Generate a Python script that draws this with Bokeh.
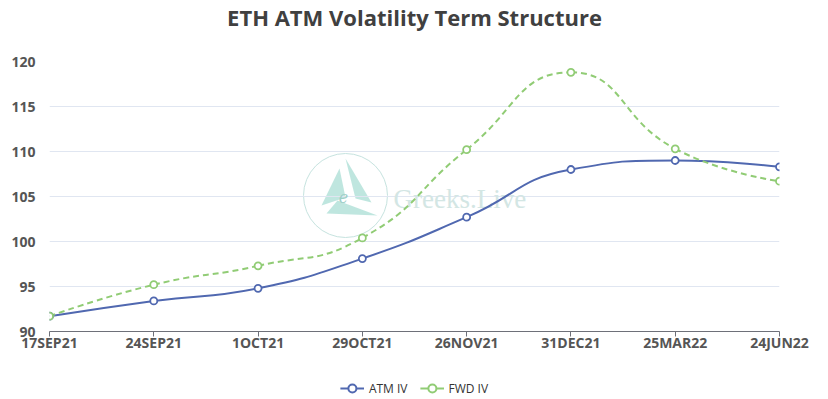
import math
from bokeh.plotting import figure
from bokeh.layouts import column
from bokeh.models import (FixedTicker, Legend, LegendItem, Label, Range1d, ColumnDataSource)
from bokeh.embed import file_html
from bokeh.resources import INLINE

# ---------------- data ----------------
categories = ["17SEP21", "24SEP21", "1OCT21", "29OCT21", "26NOV21", "31DEC21", "25MAR22", "24JUN22"]
atm_iv = [91.7, 93.4, 94.8, 98.1, 102.7, 108.0, 109.0, 108.3]
fwd_iv = [91.7, 95.2, 97.3, 100.4, 110.2, 118.8, 110.3, 106.7]
y_ticks = [90, 95, 100, 105, 110, 115, 120]
title_text = "ETH ATM Volatility Term Structure"

ATM_COLOR = "#5068b0"
FWD_COLOR = "#91cc75"

W = 828
TITLE_H = 32
LEG_H = 22
H = 399 - LEG_H - TITLE_H
FRAME_TOP, FRAME_BOTTOM = 61, 331   # page px
L, R = 49, 49
T = FRAME_TOP - TITLE_H
B = (TITLE_H + H) - FRAME_BOTTOM
frame_w = W - L - R
frame_h = H - T - B
xs = list(range(len(categories)))
SX = frame_w / (len(categories) - 1)   # px per category
SY = frame_h / (y_ticks[-1] - y_ticks[0])  # px per unit


def smooth_segments(xv, yv, smooth=0.5):
    """ECharts-style smooth curve control points (computed in pixel space)."""
    pts = [(x * SX, y * SY) for x, y in zip(xv, yv)]
    n = len(pts)
    segs = []
    cpx0, cpy0 = pts[0]
    prevX, prevY = pts[0]
    for i in range(1, n):
        x, y = pts[i]
        ncx, ncy = x, y
        if i == n - 1:
            cpx1, cpy1 = x, y
        else:
            nextX, nextY = pts[i + 1]
            vx = nextX - prevX
            vy = nextY - prevY
            lp = math.hypot(x - prevX, y - prevY)
            ln = math.hypot(nextX - x, nextY - y)
            r = ln / (ln + lp)
            ncx = x + vx * smooth * r
            ncy = y + vy * smooth * r
            ncx = min(ncx, max(nextX, x)); ncy = min(ncy, max(nextY, y))
            ncx = max(ncx, min(nextX, x)); ncy = max(ncy, min(nextY, y))
            vx = ncx - x; vy = ncy - y
            cpx1 = x - vx * lp / ln; cpy1 = y - vy * lp / ln
            cpx1 = min(cpx1, max(prevX, x)); cpy1 = min(cpy1, max(prevY, y))
            cpx1 = max(cpx1, min(prevX, x)); cpy1 = max(cpy1, min(prevY, y))
            vx = x - cpx1; vy = y - cpy1
            ncx = x + vx * ln / lp; ncy = y + vy * ln / lp
        segs.append((prevX, prevY, cpx0, cpy0, cpx1, cpy1, x, y))
        cpx0, cpy0 = ncx, ncy
        prevX, prevY = x, y
    keys = ["x0", "y0", "cx0", "cy0", "cx1", "cy1", "x1", "y1"]
    d = {k: [] for k in keys}
    for s in segs:
        for j, k in enumerate(keys):
            d[k].append(s[j] / (SX if j % 2 == 0 else SY))
    return ColumnDataSource(d)


def blank_fig(height):
    f = figure(width=W, height=height, output_backend="svg", toolbar_location=None,
               min_border=0, x_range=Range1d(0, 1), y_range=Range1d(0, 1))
    f.axis.visible = False
    f.grid.visible = False
    f.outline_line_color = None
    f.background_fill_color = "white"
    f.border_fill_color = "white"
    return f


# title strip
t = blank_fig(TITLE_H)
t.add_layout(Label(x=0.5, y=0.5, text=title_text, text_font="Open Sans", text_font_style="bold",
                   text_font_size="22px", text_color="#404040", text_align="center",
                   text_baseline="middle"))

p = figure(width=W, height=H, output_backend="svg", toolbar_location=None,
           x_range=Range1d(0, len(categories) - 1), y_range=Range1d(y_ticks[0], y_ticks[-1]),
           min_border_left=L, min_border_right=R, min_border_top=T, min_border_bottom=B)
p.outline_line_color = None
p.background_fill_color = "white"
p.border_fill_color = "white"

# axes
p.xaxis.ticker = FixedTicker(ticks=xs)
p.xaxis.major_label_overrides = {i: c for i, c in enumerate(categories)}
p.xaxis.minor_tick_line_color = None
p.xaxis.major_tick_in = 0
p.xaxis.major_tick_out = 5
p.xaxis.axis_line_color = "#6e7079"
p.xaxis.major_tick_line_color = "#6e7079"
p.xaxis.major_label_text_font = "Open Sans"
p.xaxis.major_label_text_font_style = "bold"
p.xaxis.major_label_text_font_size = "14px"
p.xaxis.major_label_text_color = "#555555"
p.xaxis.major_label_standoff = -4

p.yaxis.ticker = FixedTicker(ticks=y_ticks)
p.yaxis.axis_line_color = None
p.yaxis.major_tick_line_color = None
p.yaxis.minor_tick_line_color = None
p.yaxis.major_label_text_font = "Open Sans"
p.yaxis.major_label_text_font_style = "bold"
p.yaxis.major_label_text_font_size = "14px"
p.yaxis.major_label_text_color = "#555555"
p.yaxis.major_label_standoff = 8

p.xgrid.grid_line_color = None
p.ygrid.grid_line_color = "#e0e6f1"
p.ygrid.grid_line_width = 1


def px2data(px, py):
    # page pixel -> data coordinates (decoration only)
    fx = px - L
    fy = py - FRAME_TOP
    return fx / SX, y_ticks[-1] - fy / SY


# watermark logo
cx, cy = px2data(345, 195)
p.scatter([cx], [cy], size=84, marker="circle", fill_alpha=0, line_color="#c6e3df",
          line_width=1, level="underlay")
tris_px = [
    [(321, 205), (339, 168), (345, 197)],
    [(345, 158), (371, 202), (355, 198)],
    [(326, 213), (377, 215), (337, 200)],
]
txs, tys = [], []
for tri in tris_px:
    pts = [px2data(a, b) for a, b in tri]
    txs.append([q[0] for q in pts]); tys.append([q[1] for q in pts])
p.patches(txs, tys, fill_color="#a9ddd4", fill_alpha=0.75, line_color=None, level="underlay")
ex, ey = px2data(343, 196)
p.add_layout(Label(x=ex, y=ey, text="e", text_font="DejaVu Serif", text_font_style="italic",
                   text_font_size="16px", text_color="#9fcfc8", text_align="center",
                   text_baseline="middle", level="underlay"))
gx, gy = px2data(393, 198)
p.add_layout(Label(x=gx, y=gy, text="Greeks.Live", text_font="Liberation Serif",
                   text_font_size="27px", text_color="#d3e6e4", text_align="left",
                   text_baseline="alphabetic", level="underlay"))

# series
atm_src = smooth_segments(xs, atm_iv)
fwd_src = smooth_segments(xs, fwd_iv)
p.bezier(x0="x0", y0="y0", x1="x1", y1="y1", cx0="cx0", cy0="cy0", cx1="cx1", cy1="cy1",
         source=atm_src, line_color=ATM_COLOR, line_width=2)
p.bezier(x0="x0", y0="y0", x1="x1", y1="y1", cx0="cx0", cy0="cy0", cx1="cx1", cy1="cy1",
         source=fwd_src, line_color=FWD_COLOR, line_width=2, line_dash="6 4")
p.scatter(xs, atm_iv, size=7, marker="circle", fill_color="white", line_color=ATM_COLOR, line_width=1.8)
p.scatter(xs, fwd_iv, size=7, marker="circle", fill_color="white", line_color=FWD_COLOR, line_width=1.8)

# legend strip (separate small figure below the chart)
q = blank_fig(LEG_H)
nan = [float("nan")]
l1 = q.line(nan, nan, line_color=ATM_COLOR, line_width=2)
m1 = q.scatter(nan, nan, size=13, marker="circle", fill_color="white", line_color=ATM_COLOR, line_width=2)
l2 = q.line(nan, nan, line_color=FWD_COLOR, line_width=2)
m2 = q.scatter(nan, nan, size=13, marker="circle", fill_color="white", line_color=FWD_COLOR, line_width=2)
legend = Legend(items=[LegendItem(label="ATM IV", renderers=[l1, m1]),
                       LegendItem(label="FWD IV", renderers=[l2, m2])],
                orientation="horizontal", location="center",
                border_line_color=None, background_fill_alpha=0,
                label_text_font="Open Sans", label_text_font_size="12px", label_text_color="#333333",
                glyph_width=24, glyph_height=20, label_standoff=5, spacing=12,
                padding=0, margin=0)
q.add_layout(legend, "center")

layout = column(t, p, q, spacing=0)
open("out.html", "w").write(file_html(layout, INLINE))
